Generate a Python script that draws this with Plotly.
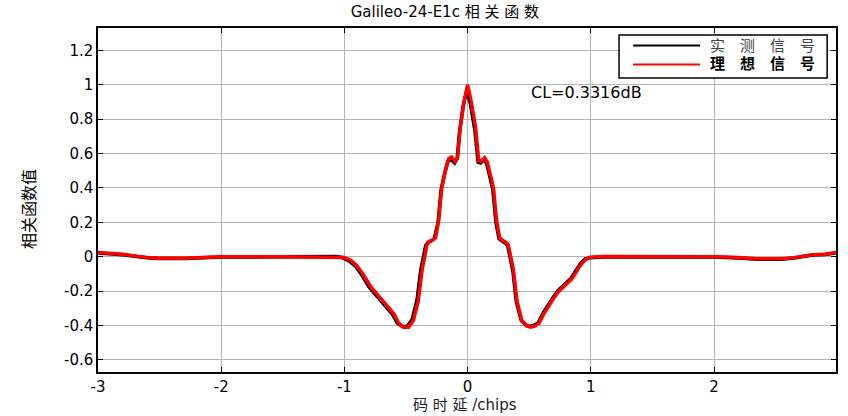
import plotly.graph_objects as go

# ---- data ----
delay_ideal = [-3.00, -2.80, -2.60, -2.50, -2.30, -2.10, -2.00, -1.50, -1.20, -1.05, -1.00, -0.95, -0.90,
               -0.85, -0.79, -0.72, -0.67, -0.60, -0.56, -0.52, -0.48, -0.44, -0.40, -0.37, -0.33,
               -0.31, -0.29, -0.26, -0.235, -0.21, -0.18, -0.154, -0.13, -0.10, -0.08, -0.06, -0.03,
               0.00, 0.03, 0.065, 0.09, 0.11, 0.138, 0.16, 0.18, 0.21, 0.235, 0.26, 0.29, 0.31,
               0.33, 0.373, 0.40, 0.44, 0.48, 0.51, 0.54, 0.577, 0.62, 0.657, 0.70, 0.74, 0.80,
               0.845, 0.885, 0.925, 0.96, 0.995, 1.10, 1.50, 2.00, 2.20, 2.35, 2.55, 2.65, 2.80,
               2.90, 2.99]
corr_ideal = [0.025, 0.015, -0.005, -0.008, -0.008, -0.005, 0.000, 0.000, 0.000, 0.000, -0.005, -0.02, -0.05,
              -0.10, -0.17, -0.23, -0.275, -0.33, -0.385, -0.41, -0.41, -0.37, -0.255, -0.08, 0.07,
              0.09, 0.095, 0.11, 0.21, 0.40, 0.50, 0.57, 0.58, 0.555, 0.58, 0.75, 0.90,
              1.00, 0.90, 0.75, 0.56, 0.555, 0.575, 0.55, 0.49, 0.40, 0.21, 0.11, 0.093, 0.085,
              0.07, -0.08, -0.255, -0.37, -0.40, -0.41, -0.405, -0.39, -0.33, -0.285, -0.24, -0.20, -0.16,
              -0.13, -0.085, -0.04, -0.015, -0.003, 0.002, 0.002, 0.000, -0.005, -0.012, -0.012, -0.005, 0.012,
              0.015, 0.025]

delay_meas = [-3.00, -2.80, -2.60, -2.50, -2.30, -2.10, -2.00, -1.50, -1.20, -1.07, -1.02, -0.96, -0.91,
              -0.86, -0.80, -0.73, -0.68, -0.61, -0.57, -0.53, -0.49, -0.45, -0.41, -0.38, -0.34,
              -0.32, -0.30, -0.27, -0.24, -0.215, -0.185, -0.16, -0.135, -0.105, -0.085, -0.065, -0.035,
              -0.005, 0.025, 0.06, 0.085, 0.105, 0.133, 0.155, 0.175, 0.205, 0.23, 0.255, 0.285, 0.305,
              0.325, 0.368, 0.395, 0.435, 0.475, 0.505, 0.535, 0.572, 0.615, 0.652, 0.695, 0.735, 0.795,
              0.84, 0.88, 0.92, 0.955, 0.99, 1.10, 1.50, 2.00, 2.20, 2.35, 2.55, 2.65, 2.80,
              2.90, 2.99]
corr_meas = [0.022, 0.012, -0.006, -0.010, -0.010, -0.007, -0.002, 0.000, 0.000, 0.002, -0.004, -0.025, -0.055,
             -0.105, -0.175, -0.235, -0.28, -0.335, -0.385, -0.405, -0.405, -0.365, -0.25, -0.075, 0.065,
             0.085, 0.09, 0.105, 0.20, 0.39, 0.49, 0.555, 0.565, 0.545, 0.57, 0.73, 0.88,
             0.97, 0.88, 0.73, 0.55, 0.545, 0.565, 0.54, 0.48, 0.39, 0.20, 0.105, 0.088, 0.08,
             0.065, -0.085, -0.26, -0.37, -0.40, -0.405, -0.40, -0.385, -0.325, -0.28, -0.235, -0.195, -0.155,
             -0.125, -0.08, -0.035, -0.012, -0.006, -0.002, 0.000, -0.002, -0.007, -0.014, -0.014, -0.007, 0.010,
             0.013, 0.022]

x_ticks = [-3, -2, -1, 0, 1, 2]
x_tick_labels = ["-3", "-2", "-1", "0", "1", "2"]
y_ticks = [-0.6, -0.4, -0.2, 0, 0.2, 0.4, 0.6, 0.8, 1.0, 1.2]
y_tick_labels = ["-0.6", "-0.4", "-0.2", "0", "0.2", "0.4", "0.6", "0.8", "1", "1.2"]

series_names = ["实\u2003测\u2003信\u2003号", "理\u2003想\u2003信\u2003号"]
title_text = "Galileo-24-E1c 相 关 函 数"
x_title = "码 时 延 /chips"
y_title = "相关函数值"
cl_text = "CL=0.3316dB"

FONT = "DejaVu Sans, Arial, Noto Sans CJK SC, sans-serif"

fig = go.Figure()
fig.add_trace(go.Scatter(x=delay_meas, y=corr_meas, mode="lines", name=series_names[0],
                         line=dict(color="black", width=3.5), showlegend=False))
fig.add_trace(go.Scatter(x=delay_ideal, y=corr_ideal, mode="lines", name=series_names[1],
                         line=dict(color="#ff0000", width=3.5), showlegend=False))

axis_common = dict(showline=True, linecolor="black", linewidth=1.5, mirror="ticks",
                   ticks="inside", ticklen=5, tickcolor="black", automargin=False,
                   showgrid=True, gridcolor="#b4b4b4", gridwidth=1, zeroline=False,
                   tickfont=dict(family=FONT, size=15, color="black"))

fig.update_xaxes(range=[-3, 2.99], tickvals=x_ticks, ticktext=x_tick_labels, **axis_common)
fig.update_yaxes(range=[-0.67, 1.33], tickvals=y_ticks, ticktext=y_tick_labels, **axis_common)

# axis titles as annotations
fig.add_annotation(xref="paper", yref="paper", x=0.497, y=-0.096, xanchor="center", yanchor="middle",
                   text=x_title, showarrow=False, font=dict(family=FONT, size=15, color="#222"))
fig.add_annotation(xref="paper", yref="paper", x=-0.092, y=0.474, xanchor="center", yanchor="middle",
                   text=y_title, showarrow=False, textangle=-90,
                   font=dict(family=FONT, size=16, color="black"))

# manual legend (paper coordinates)
fig.add_shape(type="rect", xref="paper", yref="paper", x0=0.706, x1=0.988, y0=0.855, y1=0.980,
              line=dict(color="black", width=1.5), fillcolor="white", layer="above")
fig.add_shape(type="line", xref="paper", yref="paper", x0=0.725, x1=0.816, y0=0.949, y1=0.949,
              line=dict(color="black", width=2), layer="above")
fig.add_shape(type="line", xref="paper", yref="paper", x0=0.725, x1=0.816, y0=0.894, y1=0.894,
              line=dict(color="#ff0000", width=2), layer="above")
fig.add_annotation(xref="paper", yref="paper", x=0.826, y=0.949, xanchor="left", yanchor="middle",
                   text=series_names[0], showarrow=False,
                   font=dict(family=FONT, size=15, color="#444"))
fig.add_annotation(xref="paper", yref="paper", x=0.826, y=0.894, xanchor="left", yanchor="middle",
                   text="<b>" + series_names[1] + "</b>", showarrow=False,
                   font=dict(family=FONT, size=15, color="black"))

fig.add_annotation(x=0.495, y=0.953, xanchor="left", yanchor="middle", text=cl_text, showarrow=False,
                   font=dict(family=FONT, size=16, color="black"))

fig.update_layout(
    width=848, height=416,
    margin=dict(l=98, r=12, t=28, b=44, autoexpand=False),
    paper_bgcolor="white", plot_bgcolor="white",
    title=dict(text=title_text, xref="paper", x=0.47, xanchor="center", y=0.972, yanchor="middle",
               font=dict(family=FONT, size=15, color="black")),
    showlegend=False,
)

fig.write_html("out.html")
